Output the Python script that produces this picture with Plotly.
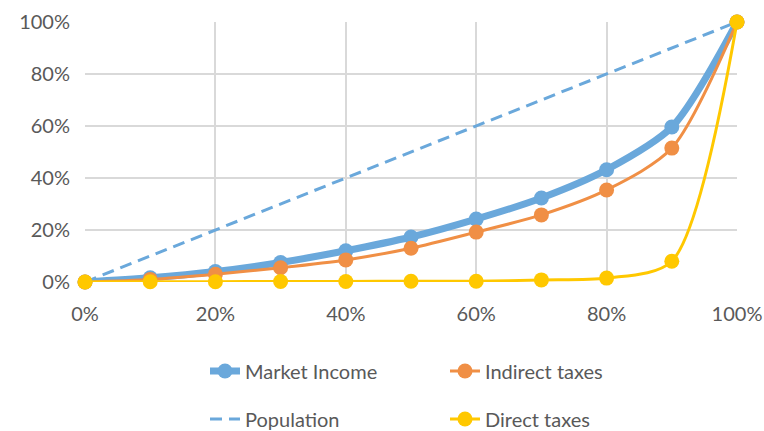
import plotly.graph_objects as go

x_vals = [0, 0.1, 0.2, 0.3, 0.4, 0.5, 0.6, 0.7, 0.8, 0.9, 1.0]
market_income = [0, 0.016, 0.04, 0.075, 0.12, 0.173, 0.242, 0.323, 0.432, 0.596, 1.0]
indirect_taxes = [0, 0.01, 0.03, 0.055, 0.085, 0.13, 0.192, 0.258, 0.354, 0.515, 1.0]
population = [0, 0.1, 0.2, 0.3, 0.4, 0.5, 0.6, 0.7, 0.8, 0.9, 1.0]
direct_taxes = [0, 0.001, 0.001, 0.002, 0.002, 0.003, 0.003, 0.008, 0.015, 0.08, 1.0]

tick_vals = [0, 0.2, 0.4, 0.6, 0.8, 1.0]
tick_text = ["0%", "20%", "40%", "60%", "80%", "100%"]

BLUE = "#6AA8DB"
ORANGE = "#F08F45"
YELLOW = "#FFC800"
FONT = "Lato"
TXT = "#595959"

fig = go.Figure()
fig.add_trace(go.Scatter(
    x=x_vals, y=market_income, name="Market Income", mode="lines+markers",
    line=dict(color=BLUE, width=7, shape="spline", smoothing=0.8),
    marker=dict(color=BLUE, size=15), cliponaxis=False, legend="legend",
))
fig.add_trace(go.Scatter(
    x=x_vals, y=indirect_taxes, name="Indirect taxes", mode="lines+markers",
    line=dict(color=ORANGE, width=3, shape="spline", smoothing=0.8),
    marker=dict(color=ORANGE, size=15), cliponaxis=False, legend="legend",
))
fig.add_trace(go.Scatter(
    x=x_vals, y=population, name="Population", mode="lines",
    line=dict(color=BLUE, width=3, dash="12px,7px"), cliponaxis=False, legend="legend2",
))
fig.add_trace(go.Scatter(
    x=x_vals, y=direct_taxes, name="Direct taxes", mode="lines+markers",
    line=dict(color=YELLOW, width=3, shape="spline", smoothing=0.8),
    marker=dict(color=YELLOW, size=15), cliponaxis=False, legend="legend2",
))

legend_common = dict(
    orientation="h", xref="container", yref="container",
    xanchor="left", yanchor="middle", entrywidth=195,
    font=dict(family=FONT, size=20, color=TXT), bgcolor="rgba(0,0,0,0)",
)

fig.update_layout(
    width=764, height=431,
    margin=dict(l=85, r=27, t=22, b=149, autoexpand=False),
    paper_bgcolor="white", plot_bgcolor="white",
    font=dict(family=FONT, size=20, color=TXT),
    showlegend=True,
    legend=dict(x=205 / 764, y=1 - 371 / 431, **legend_common),
    legend2=dict(x=205 / 764, y=1 - 419 / 431, **legend_common),
)
fig.update_xaxes(
    range=[0, 1], tickvals=tick_vals, ticktext=tick_text,
    showgrid=True, gridcolor="#D9D9D9", gridwidth=1.5,
    zeroline=False, showline=False, ticks="", ticklabelstandoff=18,
    automargin=False,
)
fig.update_yaxes(
    range=[0, 1], tickvals=tick_vals, ticktext=tick_text,
    showgrid=True, gridcolor="#D9D9D9", gridwidth=1.5,
    zeroline=False, showline=False, ticks="", ticklabelstandoff=14,
    automargin=False,
)

fig.write_html(
    "out.html",
    config={"displayModeBar": False},
    post_script="document.body.style.margin='0';document.body.style.overflow='hidden';",
)
